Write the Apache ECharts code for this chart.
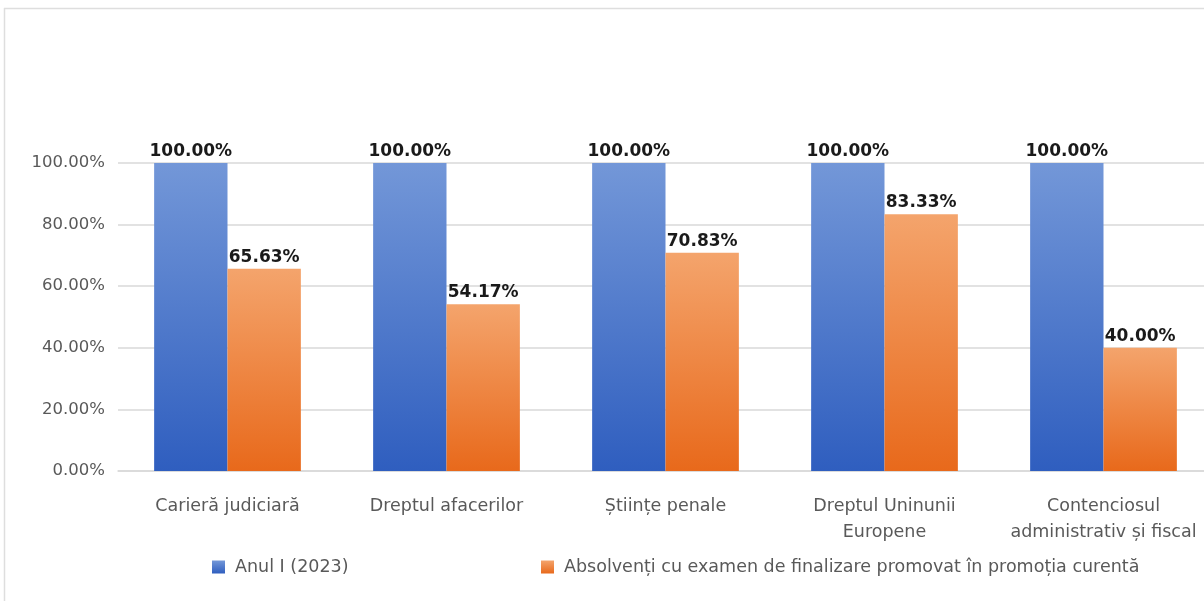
<!DOCTYPE html>
<html><head><meta charset="utf-8">
<script src="https://cdn.jsdelivr.net/npm/echarts@6/dist/echarts.min.js"></script>
<style>html,body{margin:0;padding:0;background:#fff}#c{width:1204px;height:601px}</style>
</head><body><div id="c"></div>
<script>
const categories = ['Carieră judiciară', 'Dreptul afacerilor', 'Științe penale', 'Dreptul Uninunii\nEuropene', 'Contenciosul\nadministrativ și fiscal'];
const seriesNames = ['Anul I (2023)', 'Absolvenți cu examen de finalizare promovat în promoția curentă'];
const anulI = [100.00, 100.00, 100.00, 100.00, 100.00];
const absolventi = [65.63, 54.17, 70.83, 83.33, 40.00];
const yTicks = [0, 20, 40, 60, 80, 100];

const FONT = 'DejaVu Sans';
const chart = echarts.init(document.getElementById('c'));
const grad = (a, b) => new echarts.graphic.LinearGradient(0, 0, 0, 1, [{offset: 0, color: a}, {offset: 1, color: b}]);
chart.setOption({
  backgroundColor: '#fff',
  animation: false,
  graphic: [
    {type: 'line', shape: {x1: 4, y1: 8.5, x2: 1204, y2: 8.5}, style: {stroke: '#dedede', lineWidth: 1.5}},
    {type: 'line', shape: {x1: 4.5, y1: 8, x2: 4.5, y2: 601}, style: {stroke: '#dedede', lineWidth: 1.5}}
  ],
  legend: [
    {data: [seriesNames[0]], left: 207, top: 553, icon: 'rect', itemWidth: 13, itemHeight: 13, itemGap: 0,
     textStyle: {color: '#595959', fontFamily: FONT, fontSize: 17.5, padding: [0, 0, 0, 5]}},
    {data: [seriesNames[1]], left: 536, top: 553, icon: 'rect', itemWidth: 13, itemHeight: 13, itemGap: 0,
     textStyle: {color: '#595959', fontFamily: FONT, fontSize: 17.5, padding: [0, 0, 0, 5]}}
  ],
  grid: {left: 118, top: 163, width: 1095, height: 308, containLabel: false, outerBoundsMode: 'none'},
  xAxis: {
    type: 'category', data: categories,
    axisLine: {lineStyle: {color: '#d9d9d9', width: 1.5}},
    axisTick: {show: false},
    axisLabel: {color: '#595959', fontFamily: FONT, fontSize: 17.5, margin: 22, lineHeight: 26, interval: 0}
  },
  yAxis: {
    type: 'value', min: 0, max: 100, interval: 20,
    axisLine: {show: false}, axisTick: {show: false},
    splitLine: {lineStyle: {color: '#d9d9d9', width: 1.5}},
    axisLabel: {color: '#595959', fontFamily: FONT, fontSize: 16.5, margin: 13,
      formatter: v => yTicks.includes(v) ? v.toFixed(2) + '%' : ''}
  },
  series: [
    {name: seriesNames[0], type: 'bar', data: anulI, barGap: '0%', barCategoryGap: '33%',
     itemStyle: {color: grad('#7397d8', '#2f5ebf')},
     label: {show: true, position: 'top', distance: 3, color: '#1a1a1a', fontFamily: FONT, fontWeight: 'bold', fontSize: 17,
       formatter: p => p.value.toFixed(2) + '%'}},
    {name: seriesNames[1], type: 'bar', data: absolventi,
     itemStyle: {color: grad('#f4a46c', '#e8691b')},
     label: {show: true, position: 'top', distance: 3, color: '#1a1a1a', fontFamily: FONT, fontWeight: 'bold', fontSize: 17,
       formatter: p => p.value.toFixed(2) + '%'}}
  ]
});
</script></body></html>
